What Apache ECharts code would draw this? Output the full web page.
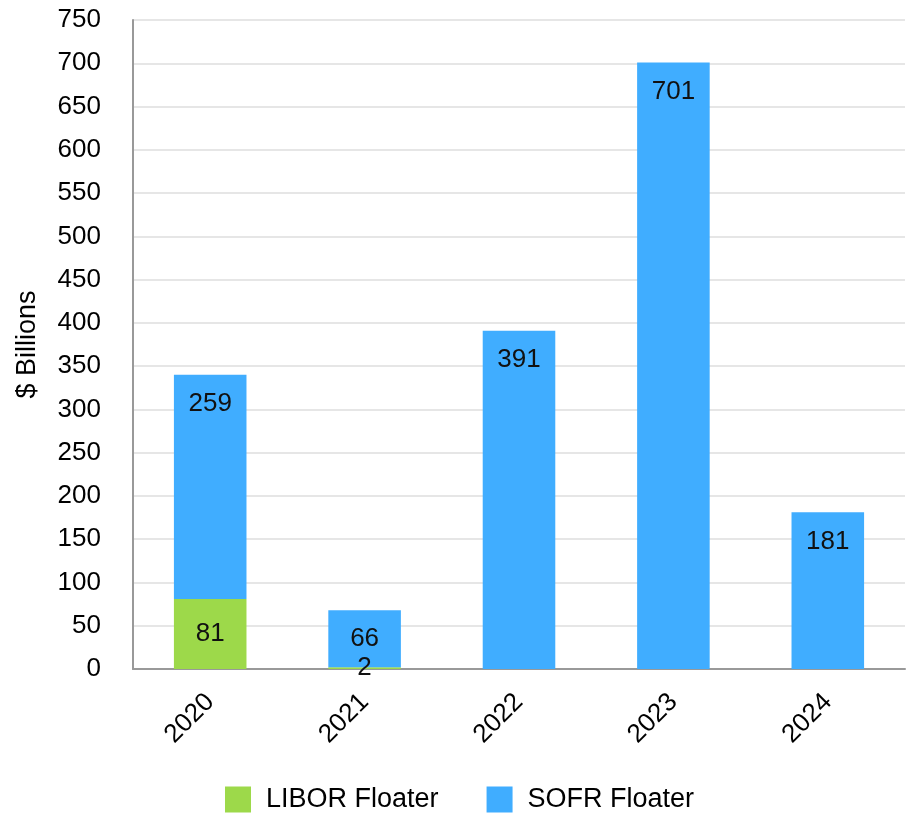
<!DOCTYPE html>
<html>
<head>
<meta charset="utf-8">
<script src="https://cdn.jsdelivr.net/npm/echarts@6/dist/echarts.min.js"></script>
<style>
  html, body { margin: 0; padding: 0; background: #fff; }
  #main { width: 906px; height: 813px; }
</style>
</head>
<body>
<div id="main"></div>
<script>
const years = ["2020", "2021", "2022", "2023", "2024"];
const liborFloater = [81, 2, 0, 0, 0];
const sofrFloater = [259, 66, 391, 701, 181];
const yTicks = { min: 0, max: 750, interval: 50 };

const chart = echarts.init(document.getElementById("main"));
const font = "Liberation Sans, Arial, sans-serif";

const labelFmt = function (d) {
  return d.value > 0 ? d.value : "";
};

const option = {
  textStyle: { fontFamily: font },
  animation: false,
  grid: { left: 133, right: 1, top: 20, bottom: 144 },
  legend: {
    bottom: -5,
    left: 220,
    itemWidth: 26,
    itemHeight: 26,
    itemGap: 48,
    icon: "rect",
    textStyle: { fontSize: 27, color: "#000", fontFamily: font, padding: [0, 0, 0, 10] },
    data: ["LIBOR Floater", "SOFR Floater"]
  },
  xAxis: {
    type: "category",
    data: years,
    axisLine: { lineStyle: { color: "#999", width: 2 } },
    axisTick: { show: false },
    axisLabel: { rotate: 45, fontSize: 26, color: "#000", margin: 29, fontFamily: font }
  },
  yAxis: {
    type: "value",
    min: yTicks.min,
    max: yTicks.max,
    interval: yTicks.interval,
    name: "$ Billions",
    nameLocation: "middle",
    nameGap: 92,
    nameTextStyle: { fontSize: 27, color: "#000", fontFamily: font },
    axisLine: { show: true, lineStyle: { color: "#999", width: 2 } },
    axisTick: { show: false },
    splitLine: { lineStyle: { color: "#e6e6e6", width: 2 } },
    axisLabel: { fontSize: 26, color: "#000", margin: 32, fontFamily: font }
  },
  series: [
    {
      name: "LIBOR Floater",
      type: "bar",
      stack: "total",
      barWidth: "47%",
      itemStyle: { color: "#9dd94a" },
      label: {
        show: true,
        position: "inside",
        fontSize: 26,
        color: "#111",
        fontFamily: font,
        formatter: labelFmt
      },
      data: liborFloater
    },
    {
      name: "SOFR Floater",
      type: "bar",
      stack: "total",
      barWidth: "47%",
      itemStyle: { color: "#40adff" },
      label: {
        show: true,
        position: "insideTop",
        distance: 16,
        fontSize: 26,
        color: "#111",
        fontFamily: font,
        formatter: labelFmt
      },
      data: sofrFloater
    }
  ]
};

chart.setOption(option);
</script>
</body>
</html>
